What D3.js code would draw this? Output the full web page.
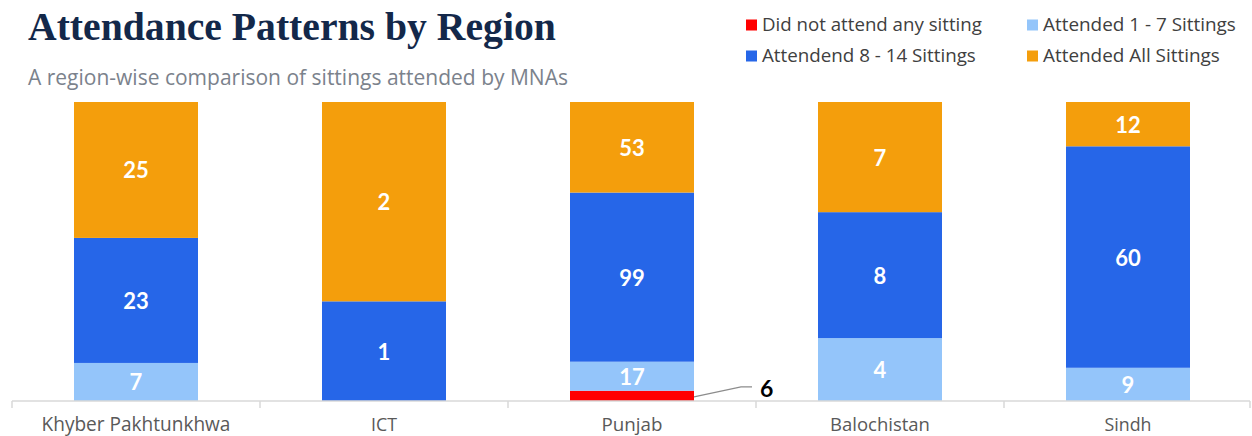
<!DOCTYPE html>
<html>
<head>
<meta charset="utf-8">
<script src="https://cdn.jsdelivr.net/npm/d3@7"></script>
<style>
  body { margin: 0; background: #fff; }
  svg { display: block; }
</style>
</head>
<body>
<div id="chart"></div>
<script>
    // datos
    const regions = ["Khyber Pakhtunkhwa", "ICT", "Punjab", "Balochistan", "Sindh"];
    const seriesNames = ["Did not attend any sitting", "Attended 1 - 7 Sittings", "Attendend 8 - 14 Sittings", "Attended All Sittings"];
    const noneValues = [0, 0, 6, 0, 0];
    const lowValues = [7, 0, 17, 4, 9];
    const midValues = [23, 1, 99, 8, 60];
    const allValues = [25, 2, 53, 7, 12];
    const colors = ["#ff0000", "#94c5fa", "#2666e8", "#f49e0c"];

    const W = 1252, H = 436;
    const plot = { top: 102, bottom: 401, left: 12, right: 1252 };

    const svg = d3.select("#chart").append("svg")
        .attr("width", W)
        .attr("height", H);

    // ajusta el tamaño de fuente para llegar al ancho medido en la figura
    function fitWidth(sel, target) {
        sel.each(function () {
            const len = this.getComputedTextLength();
            const size = parseFloat(this.style.fontSize);
            if (len > 0) this.style.fontSize = (size * target / len) + "px";
        });
    }

    const rows = regions.map((r, i) => ({
        region: r,
        [seriesNames[0]]: noneValues[i],
        [seriesNames[1]]: lowValues[i],
        [seriesNames[2]]: midValues[i],
        [seriesNames[3]]: allValues[i]
    }));

    const stacked = d3.stack().keys(seriesNames).offset(d3.stackOffsetExpand)(rows);

    const x = d3.scaleBand().domain(regions).range([plot.left, plot.right])
        .paddingInner(0.5).paddingOuter(0.25);
    const y = d3.scaleLinear().domain([0, 1]).range([plot.bottom, plot.top]);
    const color = d3.scaleOrdinal().domain(seriesNames).range(colors);

    // Titulo
    svg.append("text")
        .attr("x", 28).attr("y", 40)
        .style("font-family", "'Liberation Serif', serif")
        .style("font-weight", "bold")
        .style("font-size", "38px")
        .style("fill", "#13284a")
        .text("Attendance Patterns by Region")
        .call(fitWidth, 528);

    svg.append("text")
        .attr("x", 28).attr("y", 85)
        .style("font-family", "'Open Sans', sans-serif")
        .style("font-size", "18px")
        .style("fill", "#7b828c")
        .text("A region-wise comparison of sittings attended by MNAs")
        .call(fitWidth, 540);

    // Leyenda
    const legendPos = [[746, 25], [1027, 25], [746, 56], [1027, 56]];
    const legendWidths = [220, 193, 214, 177];
    const legend = svg.append("g").selectAll("g")
        .data(seriesNames)
        .join("g")
        .attr("transform", (d, i) => `translate(${legendPos[i][0]},${legendPos[i][1]})`);
    legend.append("rect")
        .attr("x", 0).attr("y", -5.5)
        .attr("width", 11).attr("height", 11)
        .attr("fill", d => color(d));
    legend.append("text")
        .attr("x", 16).attr("y", 6)
        .style("font-family", "'Open Sans', sans-serif")
        .style("font-size", "17px")
        .style("fill", "#404040")
        .text(d => d)
        .each(function (d, i) { d3.select(this).call(fitWidth, legendWidths[i]); });

    // Barras
    const layers = svg.append("g").selectAll("g")
        .data(stacked)
        .join("g")
        .attr("fill", d => color(d.key));
    layers.selectAll("rect")
        .data(d => d.map((p, i) => ({ p, region: regions[i] })))
        .join("rect")
        .attr("x", d => x(d.region))
        .attr("width", x.bandwidth())
        .attr("y", d => y(d.p[1]))
        .attr("height", d => y(d.p[0]) - y(d.p[1]));

    // Etiquetas
    const labels = [];
    stacked.forEach(s => {
        s.forEach((p, i) => {
            const v = p.data[s.key];
            if (v > 0) labels.push({ key: s.key, region: regions[i], v, p });
        });
    });

    labels.forEach(d => {
        const cx = x(d.region) + x.bandwidth() / 2;
        const cy = (y(d.p[0]) + y(d.p[1])) / 2;
        if (d.key === seriesNames[0]) {
            // etiqueta fuera con linea guia
            const x0 = x(d.region) + x.bandwidth();
            svg.append("polyline")
                .attr("points", `${x0},${cy + 1} ${x0 + 47},${cy - 9} ${x0 + 58},${cy - 9}`)
                .attr("fill", "none")
                .attr("stroke", "#8c8c8c")
                .attr("stroke-width", 1.2);
            svg.append("text")
                .attr("x", x0 + 66).attr("y", cy + 1)
                .style("font-family", "Lato, sans-serif")
                .style("font-weight", "bold")
                .style("font-size", "23px")
                .style("fill", "#000")
                .text(d.v);
        } else {
            svg.append("text")
                .attr("x", cx).attr("y", cy)
                .attr("text-anchor", "middle")
                .attr("dominant-baseline", "central")
                .style("font-family", "Lato, sans-serif")
                .style("font-weight", "bold")
                .style("font-size", "22px")
                .style("fill", "#fff")
                .text(d.v);
        }
    });

    // Eje x
    const axis = svg.append("g").attr("transform", `translate(0,${plot.bottom})`);
    axis.append("line")
        .attr("x1", plot.left).attr("x2", plot.right - 2)
        .attr("stroke", "#d9d9d9").attr("stroke-width", 1.5);
    const step = x.step();
    axis.selectAll(".tick-line")
        .data(d3.range(regions.length + 1))
        .join("line")
        .attr("class", "tick-line")
        .attr("x1", i => Math.min(plot.left + i * step, plot.right - 2))
        .attr("x2", i => Math.min(plot.left + i * step, plot.right - 2))
        .attr("y1", 0).attr("y2", 7)
        .attr("stroke", "#d9d9d9").attr("stroke-width", 1.5);
    const catWidths = [189, 26, 61, 100, 47];
    axis.selectAll(".cat")
        .data(regions)
        .join("text")
        .attr("class", "cat")
        .attr("x", d => x(d) + x.bandwidth() / 2)
        .attr("y", 30)
        .attr("text-anchor", "middle")
        .style("font-family", "'Open Sans', sans-serif")
        .style("font-size", "17px")
        .style("fill", "#595959")
        .text(d => d)
        .each(function (d, i) { d3.select(this).call(fitWidth, catWidths[i]); });
</script>
</body>
</html>
